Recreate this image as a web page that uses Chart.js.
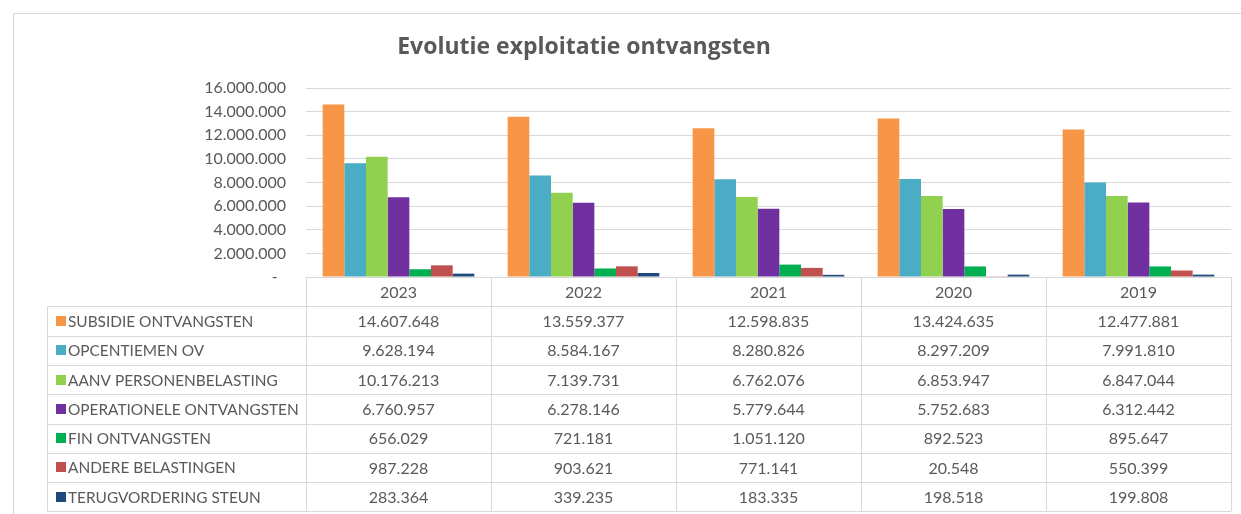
<!DOCTYPE html>
<html>
<head>
<meta charset="utf-8">
<title>Evolutie exploitatie ontvangsten</title>
<script src="https://cdn.jsdelivr.net/npm/chart.js@4.4.1/dist/chart.umd.min.js"></script>
<style>
  html, body { margin: 0; padding: 0; background: #ffffff; }
  #wrap { position: relative; width: 1241px; height: 514px; }
</style>
</head>
<body>
<div id="wrap"><canvas id="Ontvangsten"></canvas></div>
<script>
(function () {
  "use strict";

  // Data
  const years = ['2023', '2022', '2021', '2020', '2019'];
  const seriesNames = [
    'SUBSIDIE ONTVANGSTEN',
    'OPCENTIEMEN OV',
    'AANV PERSONENBELASTING',
    'OPERATIONELE ONTVANGSTEN',
    'FIN ONTVANGSTEN',
    'ANDERE BELASTINGEN',
    'TERUGVORDERING STEUN'
  ];
  const subsidie          = [14607648, 13559377, 12598835, 13424635, 12477881];
  const opcentiemen       = [9628194, 8584167, 8280826, 8297209, 7991810];
  const personenbelasting = [10176213, 7139731, 6762076, 6853947, 6847044];
  const operationele      = [6760957, 6278146, 5779644, 5752683, 6312442];
  const financieel        = [656029, 721181, 1051120, 892523, 895647];
  const andere            = [987228, 903621, 771141, 20548, 550399];
  const terugvordering    = [283364, 339235, 183335, 198518, 199808];
  const yTicks = [0, 2000000, 4000000, 6000000, 8000000, 10000000, 12000000, 14000000, 16000000];

  const seriesValues = [subsidie, opcentiemen, personenbelasting, operationele, financieel, andere, terugvordering];
  const seriesColors = ['#f79646', '#4bacc6', '#92d050', '#7030a0', '#00b050', '#c0504d', '#1f497d'];

  // Styling
  const text_gray   = '#595959';
  const line_gray   = '#d9d9d9';
  const font_family = 'Lato, "Open Sans", sans-serif';

  // 14.607.648 style, zero shown as a dash
  function formatNumber(v) {
    if (v === 0) return '-  ';
    return String(Math.round(v)).replace(/\B(?=(\d{3})+(?!\d))/g, '.');
  }

  // Outer frame and title
  const frame = {
    id: 'frame',
    beforeDraw(chart) {
      const ctx = chart.ctx;
      ctx.save();
      ctx.strokeStyle = line_gray;
      ctx.lineWidth = 1;
      ctx.beginPath();
      ctx.moveTo(13.5, chart.height);
      ctx.lineTo(13.5, 13.5);
      ctx.lineTo(chart.width, 13.5);
      ctx.stroke();

      ctx.fillStyle = text_gray;
      ctx.font = 'bold 23px "Open Sans", sans-serif';
      ctx.textAlign = 'center';
      ctx.textBaseline = 'middle';
      ctx.fillText('Evolutie exploitatie ontvangsten', 584, 47);
      ctx.restore();
    }
  };

  // Data table under the plot, columns follow the category scale
  const dataTable = {
    id: 'dataTable',
    afterDraw(chart) {
      const ctx = chart.ctx;
      const xs = chart.scales.x;
      const area = chart.chartArea;
      const colW = (area.right - area.left) / years.length;
      const rowH = 29.3;
      const top = area.bottom;
      const legendLeft = 47.5;
      const bottom = top + rowH * (seriesNames.length + 1);

      ctx.save();
      ctx.strokeStyle = line_gray;
      ctx.lineWidth = 1;
      ctx.beginPath();
      // header top
      ctx.moveTo(area.left, Math.round(top) + 0.5);
      ctx.lineTo(area.right, Math.round(top) + 0.5);
      // row lines
      for (let r = 1; r <= seriesNames.length + 1; r++) {
        const y = Math.round(top + r * rowH) + 0.5;
        ctx.moveTo(legendLeft, y);
        ctx.lineTo(area.right, y);
      }
      // column lines
      for (let c = 0; c <= years.length; c++) {
        const x = Math.round(area.left + c * colW) + 0.5;
        ctx.moveTo(x, top);
        ctx.lineTo(x, bottom);
      }
      ctx.moveTo(legendLeft, top + rowH);
      ctx.lineTo(legendLeft, bottom);
      ctx.stroke();

      ctx.fillStyle = text_gray;
      ctx.textBaseline = 'middle';
      ctx.font = '16px ' + font_family;
      ctx.textAlign = 'center';
      years.forEach(function (yr, i) {
        ctx.fillText(yr, xs.getPixelForValue(i), top + rowH / 2 + 1);
      });

      seriesNames.forEach(function (name, r) {
        const yMid = top + (r + 1.5) * rowH + 1;
        ctx.fillStyle = seriesColors[r];
        ctx.fillRect(56, Math.round(yMid - 6), 10, 10);
        ctx.fillStyle = text_gray;
        ctx.textAlign = 'left';
        ctx.font = '15.4px ' + font_family;
        ctx.fillText(name, 68, yMid);
        ctx.textAlign = 'center';
        ctx.font = '16px ' + font_family;
        seriesValues[r].forEach(function (v, i) {
          ctx.fillText(formatNumber(v), xs.getPixelForValue(i), yMid);
        });
      });
      ctx.restore();
    }
  };

  const myChart = function () {
    const el = document.getElementById('Ontvangsten');
    if (el == null) return;

    new Chart(el.getContext('2d'), {
      type: 'bar',
      data: {
        labels: years,
        datasets: seriesNames.map(function (name, i) {
          return {
            label: name,
            data: seriesValues[i],
            backgroundColor: seriesColors[i],
            borderWidth: 0
          };
        })
      },
      options: {
        responsive: true,
        maintainAspectRatio: false,
        animation: false,
        layout: {
          padding: { top: 88, right: 10, left: 0, bottom: 0 }
        },
        datasets: {
          bar: {
            categoryPercentage: 0.82,
            barPercentage: 1.0
          }
        },
        scales: {
          x: {
            grid: { display: false },
            border: { display: false },
            ticks: { display: false },
            afterFit: function (scale) { scale.height = 237; }
          },
          y: {
            min: 0,
            max: 16000000,
            afterBuildTicks: function (scale) {
              scale.ticks = yTicks.map(function (v) { return { value: v }; });
            },
            grid: { color: line_gray, drawTicks: false },
            border: { display: false },
            ticks: {
              color: text_gray,
              padding: 20,
              font: { family: font_family, size: 16 },
              callback: function (v) { return formatNumber(v); }
            },
            afterFit: function (scale) { scale.width = 306; }
          }
        },
        plugins: {
          legend: { display: false },
          title: { display: false },
          tooltip: { enabled: false }
        }
      },
      plugins: [frame, dataTable]
    });
  };

  myChart();
})();
</script>
</body>
</html>
